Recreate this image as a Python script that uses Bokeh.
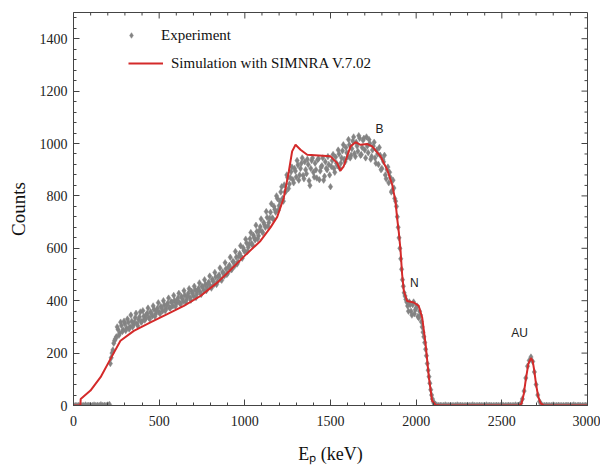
from bokeh.plotting import figure
from bokeh.models import (Legend, LegendItem, SingleIntervalTicker,
                          Range1d, Label, ColumnDataSource)
from bokeh.embed import file_html
from bokeh.resources import INLINE

# ---------------- data ----------------
# Experiment, set A: counts per 10 keV channel, channels at 0, 10, 20 ... 3000 keV
exp_counts_a = (
    [0, 0, 0, 0, 1, 0, 0, 2, 0, 1, 0, 0, 2, 0, 1, 0, 3, 0, 1, 0, 2, 4]
    + [182, 212, 248, 262, 290, 276, 305, 288, 312, 296, 318, 301, 322, 308, 335, 312,
       328, 357, 322, 341, 330, 352, 336, 358, 342, 366, 349, 371, 356, 378, 361, 384,
       368, 390, 373, 396, 380, 401, 388, 410, 392, 416, 398, 421, 405, 428, 412, 436,
       418, 441, 426, 447, 432, 455, 440, 462, 448, 470, 455, 481, 462, 490, 472, 498,
       482, 510, 494, 522, 505, 535, 518, 550, 532, 566, 548, 580, 566, 602, 588, 620,
       604, 636, 618, 650, 632, 664, 648, 682, 664, 698, 680, 718, 698, 738, 716, 760,
       738, 790, 762, 815, 790, 842, 818, 870, 845, 892, 862, 905, 872, 918, 880, 925,
       878, 930, 885, 920, 840, 935, 890, 925, 868, 942, 895, 915, 860, 930, 900, 920,
       835, 935, 905, 948, 915, 960, 925, 972, 940, 985, 948, 995, 955, 1010, 962, 1005,
       970, 1020, 958, 1012, 975, 1025, 965, 1000, 950, 990, 945, 975, 920, 955, 905, 930,
       880, 900, 850, 870, 820, 830, 780, 720, 640, 560, 480, 430, 405, 380, 395, 360,
       385, 350, 372, 340, 360, 320, 280, 240, 190, 135, 85, 40, 15, 5, 2]
    + [0, 1, 0, 0, 2, 0, 0, 1, 0, 0, 0, 2, 0, 1, 0, 0, 0, 1, 0, 0, 2, 0, 0, 0,
       1, 0, 0, 0, 2, 0, 1, 0, 0, 0, 1, 0, 0, 2, 0, 0, 0, 1, 0, 0, 0, 2, 0, 1]
    + [8, 25, 55, 105, 150, 172, 185, 168, 128, 80, 40, 15, 4]
    + [0, 0, 1, 0, 0, 0, 2, 0, 0, 1, 0, 0, 0, 0, 1, 0, 0, 0, 2, 0, 0, 1, 0, 0, 0, 1, 0]
)
exp_start_a = 0

# Experiment, set B: channels at 215, 225 ... 2105 keV (ten per row)
exp_counts_b = [
    160, 200, 238, 255, 300, 268, 318, 282, 322, 286,      # 215 - 305
    330, 292, 345, 300, 318, 352, 304, 338, 318, 362,      # 315 - 405
    326, 346, 372, 330, 350, 380, 340, 362, 392, 350,      # 415 - 505
    372, 400, 362, 384, 410, 372, 394, 420, 378, 400,      # 515 - 605
    428, 386, 408, 438, 394, 416, 446, 402, 428, 455,      # 615 - 705
    412, 440, 468, 424, 452, 480, 438, 466, 494, 448,      # 715 - 805
    475, 508, 462, 492, 525, 478, 506, 545, 500, 528,      # 815 - 905
    566, 520, 548, 588, 540, 570, 610, 562, 592, 635,      # 915 - 1005
    588, 615, 660, 612, 640, 688, 636, 668, 712, 660,      # 1015 - 1105
    690, 740, 684, 715, 770, 712, 748, 800, 745, 780,      # 1115 - 1205
    835, 780, 815, 880, 828, 870, 910, 850, 895, 935,      # 1215 - 1305
    860, 905, 945, 865, 900, 940, 858, 905, 945, 872,      # 1315 - 1405
    900, 938, 862, 910, 945, 875, 905, 950, 880, 912,      # 1415 - 1505
    958, 890, 925, 975, 905, 945, 995, 930, 965, 1015,     # 1515 - 1605
    945, 980, 1025, 950, 990, 1030, 955, 985, 1020, 945,   # 1615 - 1705
    990, 1015, 940, 975, 1005, 925, 960, 985, 900, 940,    # 1715 - 1805
    955, 865, 910, 890, 815, 860, 790, 760, 680, 600,      # 1815 - 1905
    520, 455, 418, 395, 360, 385, 345, 395, 365, 380,      # 1915 - 2005
    335, 345, 300, 262, 215, 160, 110, 60, 25, 8,          # 2015 - 2105
]
exp_start_b = 215
channel_width = 10

# SIMNRA simulation
sim_energy = [0, 40, 42, 99, 158, 216, 274, 352, 449, 547, 644, 741, 839, 897,
              1000, 1091, 1150, 1189, 1227, 1257, 1276, 1296, 1325, 1364, 1500,
              1539, 1558, 1577, 1617, 1646, 1675, 1714, 1743, 1792, 1831, 1860, 1879,
              1889, 1899, 1909, 1918, 1928, 1947, 1986, 2015, 2035, 2055, 2074, 2093,
              2113, 2140, 2600, 2615, 2628, 2640, 2655, 2670, 2680, 2690, 2700, 2712,
              2726, 2745, 3000]
sim_counts = [0, 0, 25, 57, 108, 178, 247, 285, 317, 349, 380, 418, 469, 505,
              572, 628, 680, 720, 792, 894, 970, 995, 976, 957, 951,
              925, 896, 913, 989, 1005, 995, 998, 989, 951, 900, 843, 780,
              715, 660, 590, 501, 437, 399, 393, 380, 336, 235, 108, 19,
              2, 0, 0, 8, 44, 100, 160, 181, 170, 130, 80, 35,
              9, 0, 0]

peak_labels = ["B", "N", "AU"]
peak_energy = [1786, 1990, 2603]
peak_counts = [1054, 468, 278]

x_range = (0, 3000)
y_range = (0, 1500)
x_major, x_minor = 500, 100
y_major, y_minor = 200, 40

# ---------------- figure ----------------
SERIF = "Liberation Serif"
SANS = "Liberation Sans"
AX = "#444444"

W, H = 600, 470
FL, FR, FT, FB = 73, 587, 12, 405   # frame edges in page pixels

p = figure(width=W, height=H, output_backend="svg", toolbar_location=None,
           x_range=Range1d(*x_range), y_range=Range1d(*y_range),
           min_border_left=FL, min_border_right=W - FR, min_border_top=FT,
           min_border_bottom=H - FB,
           background_fill_color="white", border_fill_color="white")
p.xgrid.visible = False
p.ygrid.visible = False
p.outline_line_color = AX
p.outline_line_width = 1

xt = SingleIntervalTicker(interval=x_major, num_minor_ticks=x_major // x_minor)
yt = SingleIntervalTicker(interval=y_major, num_minor_ticks=y_major // y_minor)
p.xaxis[0].ticker = xt
p.yaxis[0].ticker = yt

for ax in (p.xaxis[0], p.yaxis[0]):
    ax.axis_line_color = AX
    ax.major_tick_line_color = AX
    ax.minor_tick_line_color = AX
    ax.major_tick_in = 6
    ax.major_tick_out = 0
    ax.minor_tick_in = 3
    ax.minor_tick_out = 0
    ax.major_label_text_font = SERIF
    ax.major_label_text_font_size = "14px"
    ax.major_label_text_color = "#222222"
    ax.axis_label_text_font = SERIF
    ax.axis_label_text_font_style = "normal"
    ax.axis_label_text_color = "#111111"

p.xaxis[0].major_label_standoff = 10
p.xaxis[0].axis_label = "E\u209a (keV)"
p.xaxis[0].axis_label_text_font_size = "18px"
p.xaxis[0].axis_label_standoff = 15

p.yaxis[0].major_label_standoff = 6
p.yaxis[0].axis_label = "Counts"
p.yaxis[0].axis_label_text_font_size = "19px"
p.yaxis[0].axis_label_standoff = 8

# inward tick marks on the top and right frame edges
fw, fh = FR - FL, FB - FT
tx = (x_range[1] - x_range[0]) / fw      # keV per pixel
ty = (y_range[1] - y_range[0]) / fh      # counts per pixel
xs_major = list(range(x_range[0], x_range[1] + 1, x_major))
xs_minor = [v for v in range(x_range[0], x_range[1] + 1, x_minor) if v % x_major]
ys_major = list(range(y_range[0], y_range[1] + 1, y_major))
ys_minor = [v for v in range(y_range[0], y_range[1] + 1, y_minor) if v % y_major]
top = y_range[1]
right = x_range[1]
for xs, ln in ((xs_major, 6), (xs_minor, 3)):
    p.segment(x0=xs, y0=[top] * len(xs), x1=xs, y1=[top - ln * ty] * len(xs),
              line_color=AX, line_width=1)
for ys, ln in ((ys_major, 6), (ys_minor, 3)):
    p.segment(x0=[right] * len(ys), y0=ys, x1=[right - ln * tx] * len(ys), y1=ys,
              line_color=AX, line_width=1)

# ---------------- glyphs ----------------
exp_x = ([exp_start_a + channel_width * i for i in range(len(exp_counts_a))]
         + [exp_start_b + channel_width * i for i in range(len(exp_counts_b))])
exp_y = exp_counts_a + exp_counts_b
exp_src = ColumnDataSource(dict(x=exp_x, y=exp_y))
sim_src = ColumnDataSource(dict(x=sim_energy, y=sim_counts))

r_exp = p.scatter("x", "y", source=exp_src, marker="diamond", size=6.5,
                  fill_color="#838383", line_color="#838383", line_width=0.5)
r_sim = p.line("x", "y", source=sim_src, line_color="#d42a2a", line_width=2)

for t, e, c in zip(peak_labels, peak_energy, peak_counts):
    p.add_layout(Label(x=e, y=c, text=t, text_font=SANS, text_font_size="12px",
                       text_color="#222222", text_align="center", text_baseline="middle"))

common = dict(border_line_color=None, background_fill_alpha=0,
              label_text_font=SERIF, label_text_font_size="15px", label_text_color="#111111",
              glyph_height=20, label_height=20, padding=10, margin=0)
leg_exp = Legend(items=[LegendItem(label="Experiment", renderers=[r_exp])],
                 location=(51, 360), glyph_width=14, label_standoff=23, **common)
leg_sim = Legend(items=[LegendItem(label="Simulation with SIMNRA V.7.02", renderers=[r_sim])],
                 location=(55, 332), glyph_width=35, label_standoff=8, **common)
p.add_layout(leg_exp)
p.add_layout(leg_sim)

open("out.html", "w").write(file_html(p, INLINE))
